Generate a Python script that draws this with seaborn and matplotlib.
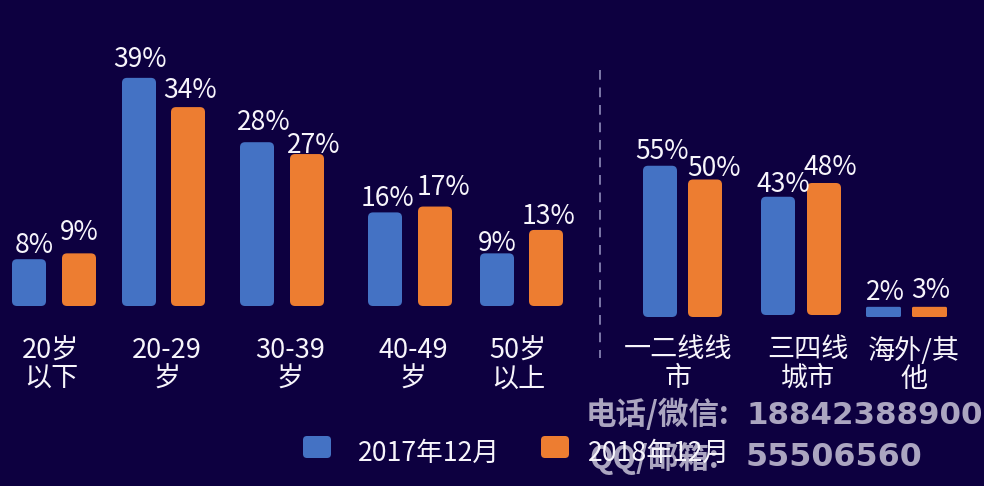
import pandas as pd
import seaborn as sns
import matplotlib.pyplot as plt
from matplotlib.patches import FancyBboxPatch

# values
age_groups = ['20岁\n以下', '20-29\n岁', '30-39\n岁', '40-49\n岁', '50岁\n以上']
age_2017 = [8, 39, 28, 16, 9]
age_2018 = [9, 34, 27, 17, 13]

city_groups = ['一二线线\n市', '三四线\n城市', '海外/其\n他']
city_2017 = [55, 43, 2]
city_2018 = [50, 48, 3]

series_names = ['2017年12月', '2018年12月']

BG = '#0d0040'
BLUE = '#4472c4'
ORANGE = '#ed7d31'
WHITE = '#f7f5fb'
MARK = '#aba5c0'

sns.set_style('dark', {'axes.facecolor': BG, 'figure.facecolor': BG})
plt.rcParams['font.family'] = ['Noto Sans CJK SC', 'DejaVu Sans']

W, H = 984, 486
fig = plt.figure(figsize=(W / 100, H / 100), dpi=100, facecolor=BG)


def long_table(groups, a, b):
    return pd.DataFrame({
        'group': groups * 2,
        'value': a + b,
        'year': [series_names[0]] * len(a) + [series_names[1]] * len(b),
    })


def draw_panel(rect, x_range, px_per_unit, base_px, table, lefts, widths, lifts,
               trims, min_h, dx, dy, tick_x, tick_pad):
    ax = fig.add_axes(rect)
    sns.barplot(data=table, x='group', y='value', hue='year', ax=ax,
                palette=[BLUE, ORANGE], saturation=1, legend=False)
    ax.set_xlim(*x_range)
    ax.set_ylim(0, base_px / px_per_unit)
    # swap the seaborn rectangles for rounded ones at the picture's positions
    for s, container in enumerate(ax.containers):
        for i, bar in enumerate(container):
            val = bar.get_height()
            y0 = lifts[i] / px_per_unit
            h = max(val - trims[s][i] / px_per_unit, min_h)
            rnd = 1.5 if h == min_h else 5
            patch = FancyBboxPatch((lefts[s][i], y0), widths[i], h,
                                   boxstyle='round,pad=0,rounding_size=%s' % rnd,
                                   mutation_aspect=1 / px_per_unit,
                                   fc=bar.get_facecolor(), ec='none', zorder=3)
            bar.set_visible(False)
            ax.add_patch(patch)
            ax.annotate('%d%%' % val,
                        (lefts[s][i] + widths[i] / 2, y0 + h),
                        xytext=(dx[s][i] * 0.72, dy[s][i] * 0.72),
                        textcoords='offset points', ha='center', va='center',
                        color=WHITE, fontsize=19, zorder=5)
    ax.set_xticks(tick_x)
    ax.set_xticklabels(table['group'][:len(tick_x)], color=WHITE, fontsize=19.5,
                       linespacing=1.08)
    ax.tick_params(axis='x', length=0, pad=tick_pad)
    ax.set_yticks([])
    ax.set_xlabel('')
    ax.set_ylabel('')
    ax.grid(False)
    ax.patch.set_alpha(0)
    sns.despine(ax=ax, left=True, bottom=True)
    return ax


# left panel, age
draw_panel([0, 1 - 306 / H, 600 / W, 306 / H], (0, 600), 5.85, 306,
           long_table(age_groups, age_2017, age_2018),
           lefts=[[12, 122, 240, 368, 480], [62, 171, 290, 418, 529]],
           widths=[34, 34, 34, 34, 34],
           lifts=[0, 0, 0, 0, 0],
           trims=[[0, 0, 0, 0, 0], [0, 0, 6, 0, 0]],  # 27% bar is drawn short
           min_h=0,
           dx=[[5, 1, 7, 2, 0], [0, 2, 7, 8, 2]],
           dy=[[14, 18, 20, 14, 10], [21, 17, 9, 19, 13]],
           tick_x=[51, 167, 290, 413, 518], tick_pad=22.5)

# right panel, city tier
draw_panel([600 / W, 1 - 317 / H, 384 / W, 317 / H], (600, 984), 2.75, 317,
           long_table(city_groups, city_2017, city_2018),
           lefts=[[643, 761, 866], [688, 807, 912]],
           widths=[34, 34, 35],
           lifts=[0, 2, 0],
           trims=[[0, 0, 0], [0, 0, 0]],
           min_h=3.7,
           dx=[[2, 5, 2], [9, 6, 1]],
           dy=[[14, 12, 14], [11, 16, 16]],
           tick_x=[678, 808, 914], tick_pad=14)

# overlay in pixels for divider, legend and the watermark
top = fig.add_axes([0, 0, 1, 1], zorder=10)
top.set_xlim(0, W)
top.set_ylim(H, 0)
top.axis('off')
top.plot([600, 600], [70, 358], color='#7d78a8', lw=1.4, ls=(0, (5, 4)))

for x, name, color, tx in [(303, series_names[0], BLUE, 358),
                           (541, series_names[1], ORANGE, 588)]:
    top.add_patch(FancyBboxPatch((x, 436), 28, 22,
                                 boxstyle='round,pad=0,rounding_size=4',
                                 fc=color, ec='none'))
    top.text(tx, 453, name, color=WHITE, fontsize=19.2, va='center', zorder=6)

top.text(586, 415, '电话/微信:', color=MARK, fontsize=22, fontweight='bold',
         va='center', zorder=2)
top.text(747, 415, '18842388900', color=MARK, fontsize=22.2, fontweight='bold',
         family='DejaVu Sans', va='center', zorder=2)
top.text(589, 459, 'QQ/邮箱:', color=MARK, fontsize=22, fontweight='bold',
         va='center', zorder=2)
top.text(746, 457, '55506560', color=MARK, fontsize=22.8, fontweight='bold',
         family='DejaVu Sans', va='center', zorder=2)

fig.savefig('out.png', dpi=100, facecolor=BG)
